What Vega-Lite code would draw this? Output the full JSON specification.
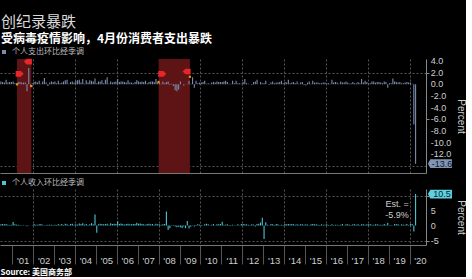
{
"$schema":"https://vega.github.io/schema/vega-lite/v6.json",
"background":"#000000",
"padding":{"left":0,"top":15,"right":0,"bottom":0},
"title":{"text":"创纪录暴跌","subtitle":"受病毒疫情影响，4月份消费者支出暴跌","anchor":"start","font":"Noto Sans CJK SC","fontSize":15,"fontWeight":"normal","color":"#dadada","subtitleFont":"Noto Sans CJK SC","subtitleFontSize":12,"subtitleFontWeight":"bold","subtitleColor":"#ffffff","subtitlePadding":4,"offset":3,"dx":1},
"datasets":{"m":[
{"d":"2000-06","s":0.5,"i":0.4},{"d":"2000-07","s":0.4,"i":0.5},{"d":"2000-08","s":0.3,"i":0.4},{"d":"2000-09","s":0.8,"i":0.5},{"d":"2000-10","s":0.3,"i":0.3},{"d":"2000-11","s":0.4,"i":0.2},{"d":"2000-12","s":0.4,"i":0.3},
{"d":"2001-01","s":0.5,"i":1.2},{"d":"2001-02","s":0.2,"i":0.4},{"d":"2001-03","s":0.1,"i":0.3},{"d":"2001-04","s":0.4,"i":0.3},{"d":"2001-05","s":0.4,"i":0.2},{"d":"2001-06","s":0.3,"i":0.1},{"d":"2001-07","s":0.3,"i":0.1},{"d":"2001-08","s":0.3,"i":0.1},{"d":"2001-09","s":-1.2,"i":-0.2},{"d":"2001-10","s":2.8,"i":0.1},{"d":"2001-11","s":-0.4,"i":0.0},{"d":"2001-12","s":0.2,"i":0.1},
{"d":"2002-01","s":0.4,"i":0.5},{"d":"2002-02","s":0.5,"i":0.3},{"d":"2002-03","s":0.3,"i":0.3},{"d":"2002-04","s":0.6,"i":0.4},{"d":"2002-05","s":0.1,"i":0.5},{"d":"2002-06","s":0.5,"i":0.3},{"d":"2002-07","s":1.1,"i":0.1},{"d":"2002-08","s":0.3,"i":0.2},{"d":"2002-09","s":-0.3,"i":0.3},{"d":"2002-10","s":0.3,"i":0.3},{"d":"2002-11","s":0.5,"i":0.3},{"d":"2002-12","s":0.4,"i":0.2},
{"d":"2003-01","s":0.5,"i":0.3},{"d":"2003-02","s":0.2,"i":0.2},{"d":"2003-03","s":0.6,"i":0.4},{"d":"2003-04","s":0.2,"i":0.3},{"d":"2003-05","s":0.3,"i":0.5},{"d":"2003-06","s":0.5,"i":0.2},{"d":"2003-07","s":0.7,"i":0.6},{"d":"2003-08","s":0.8,"i":0.4},{"d":"2003-09","s":0.1,"i":0.2},{"d":"2003-10","s":0.4,"i":0.5},{"d":"2003-11","s":0.5,"i":0.6},{"d":"2003-12","s":0.3,"i":0.3},
{"d":"2004-01","s":0.6,"i":0.4},{"d":"2004-02","s":0.7,"i":0.3},{"d":"2004-03","s":0.8,"i":0.7},{"d":"2004-04","s":0.3,"i":0.5},{"d":"2004-05","s":0.9,"i":0.8},{"d":"2004-06","s":0.1,"i":0.3},{"d":"2004-07","s":0.7,"i":0.5},{"d":"2004-08","s":0.3,"i":0.2},{"d":"2004-09","s":0.7,"i":0.4},{"d":"2004-10","s":0.6,"i":0.8},{"d":"2004-11","s":0.5,"i":0.4},{"d":"2004-12","s":1.0,"i":3.7},
{"d":"2005-01","s":0.2,"i":-2.4},{"d":"2005-02","s":0.5,"i":0.4},{"d":"2005-03","s":0.5,"i":0.6},{"d":"2005-04","s":0.7,"i":0.5},{"d":"2005-05","s":0.2,"i":0.4},{"d":"2005-06","s":0.8,"i":0.5},{"d":"2005-07","s":1.2,"i":0.6},{"d":"2005-08","s":0.1,"i":0.3},{"d":"2005-09","s":0.5,"i":0.8},{"d":"2005-10","s":0.3,"i":0.5},{"d":"2005-11","s":0.4,"i":0.6},{"d":"2005-12","s":0.5,"i":0.5},
{"d":"2006-01","s":0.9,"i":1.4},{"d":"2006-02","s":0.4,"i":0.5},{"d":"2006-03","s":0.5,"i":0.7},{"d":"2006-04","s":0.5,"i":0.5},{"d":"2006-05","s":0.4,"i":0.3},{"d":"2006-06","s":0.3,"i":0.5},{"d":"2006-07","s":0.7,"i":0.6},{"d":"2006-08","s":0.3,"i":0.4},{"d":"2006-09","s":0.3,"i":0.4},{"d":"2006-10","s":0.2,"i":0.5},{"d":"2006-11","s":0.4,"i":0.5},{"d":"2006-12","s":0.7,"i":0.9},
{"d":"2007-01","s":0.5,"i":0.6},{"d":"2007-02","s":0.4,"i":0.7},{"d":"2007-03","s":0.5,"i":0.5},{"d":"2007-04","s":0.4,"i":0.4},{"d":"2007-05","s":0.6,"i":0.3},{"d":"2007-06","s":0.2,"i":0.5},{"d":"2007-07","s":0.4,"i":0.6},{"d":"2007-08","s":0.5,"i":0.4},{"d":"2007-09","s":0.5,"i":0.5},{"d":"2007-10","s":0.4,"i":0.3},{"d":"2007-11","s":0.9,"i":0.6},{"d":"2007-12","s":0.3,"i":0.4},
{"d":"2008-01","s":0.2,"i":0.4},{"d":"2008-02","s":0.1,"i":0.3},{"d":"2008-03","s":0.5,"i":0.4},{"d":"2008-04","s":0.2,"i":0.5},{"d":"2008-05","s":0.4,"i":4.7},{"d":"2008-06","s":0.5,"i":-1.5},{"d":"2008-07","s":-0.1,"i":-0.9},{"d":"2008-08","s":0.1,"i":0.1},{"d":"2008-09","s":-0.3,"i":0.2},{"d":"2008-10","s":-1.0,"i":-0.3},{"d":"2008-11","s":-1.2,"i":-0.6},{"d":"2008-12","s":-0.9,"i":-0.4},
{"d":"2009-01","s":0.5,"i":-0.6},{"d":"2009-02","s":0.0,"i":-0.8},{"d":"2009-03","s":-0.2,"i":-0.3},{"d":"2009-04","s":0.0,"i":-0.9},{"d":"2009-05","s":0.1,"i":1.5},{"d":"2009-06","s":0.6,"i":-1.0},{"d":"2009-07","s":0.1,"i":-0.4},{"d":"2009-08","s":1.2,"i":0.1},{"d":"2009-09","s":-0.6,"i":-0.3},{"d":"2009-10","s":0.6,"i":0.2},{"d":"2009-11","s":0.2,"i":0.4},{"d":"2009-12","s":0.3,"i":0.3},
{"d":"2010-01","s":0.3,"i":0.2},{"d":"2010-02","s":0.4,"i":0.1},{"d":"2010-03","s":0.6,"i":0.4},{"d":"2010-04","s":0.1,"i":0.6},{"d":"2010-05","s":0.2,"i":0.4},{"d":"2010-06","s":0.1,"i":0.1},{"d":"2010-07","s":0.3,"i":0.3},{"d":"2010-08","s":0.4,"i":0.5},{"d":"2010-09","s":0.3,"i":0.1},{"d":"2010-10","s":0.5,"i":0.4},{"d":"2010-11","s":0.4,"i":0.4},{"d":"2010-12","s":0.4,"i":0.5},
{"d":"2011-01","s":0.4,"i":1.3},{"d":"2011-02","s":0.5,"i":0.3},{"d":"2011-03","s":0.6,"i":0.3},{"d":"2011-04","s":0.4,"i":0.4},{"d":"2011-05","s":0.1,"i":0.2},{"d":"2011-06","s":0.1,"i":0.2},{"d":"2011-07","s":0.6,"i":0.3},{"d":"2011-08","s":0.2,"i":-0.1},{"d":"2011-09","s":0.6,"i":0.1},{"d":"2011-10","s":0.2,"i":0.4},{"d":"2011-11","s":0.2,"i":0.1},{"d":"2011-12","s":0.1,"i":0.5},
{"d":"2012-01","s":0.4,"i":0.5},{"d":"2012-02","s":0.9,"i":0.4},{"d":"2012-03","s":0.2,"i":0.4},{"d":"2012-04","s":0.1,"i":0.3},{"d":"2012-05","s":0.0,"i":0.2},{"d":"2012-06","s":-0.1,"i":0.4},{"d":"2012-07","s":0.4,"i":0.3},{"d":"2012-08","s":0.5,"i":-0.3},{"d":"2012-09","s":0.8,"i":0.5},{"d":"2012-10","s":0.0,"i":0.6},{"d":"2012-11","s":0.4,"i":1.0},{"d":"2012-12","s":0.2,"i":2.6},
{"d":"2013-01","s":0.2,"i":-4.5},{"d":"2013-02","s":0.6,"i":1.1},{"d":"2013-03","s":0.0,"i":0.3},{"d":"2013-04","s":-0.1,"i":0.1},{"d":"2013-05","s":0.3,"i":0.5},{"d":"2013-06","s":0.5,"i":0.4},{"d":"2013-07","s":0.2,"i":0.2},{"d":"2013-08","s":0.3,"i":0.5},{"d":"2013-09","s":0.3,"i":0.4},{"d":"2013-10","s":0.4,"i":-0.1},{"d":"2013-11","s":0.6,"i":0.3},{"d":"2013-12","s":0.2,"i":0.2},
{"d":"2014-01","s":0.4,"i":0.5},{"d":"2014-02","s":0.3,"i":0.4},{"d":"2014-03","s":0.8,"i":0.5},{"d":"2014-04","s":0.2,"i":0.4},{"d":"2014-05","s":0.3,"i":0.5},{"d":"2014-06","s":0.4,"i":0.4},{"d":"2014-07","s":0.2,"i":0.3},{"d":"2014-08","s":0.5,"i":0.4},{"d":"2014-09","s":0.1,"i":0.3},{"d":"2014-10","s":0.3,"i":0.4},{"d":"2014-11","s":0.4,"i":0.4},{"d":"2014-12","s":-0.1,"i":0.3},
{"d":"2015-01","s":-0.2,"i":0.4},{"d":"2015-02","s":0.3,"i":0.3},{"d":"2015-03","s":0.5,"i":0.1},{"d":"2015-04","s":0.1,"i":0.4},{"d":"2015-05","s":0.6,"i":0.5},{"d":"2015-06","s":0.3,"i":0.4},{"d":"2015-07","s":0.3,"i":0.4},{"d":"2015-08","s":0.3,"i":0.3},{"d":"2015-09","s":0.2,"i":0.2},{"d":"2015-10","s":0.2,"i":0.4},{"d":"2015-11","s":0.3,"i":0.3},{"d":"2015-12","s":0.3,"i":0.3},
{"d":"2016-01","s":0.2,"i":0.4},{"d":"2016-02","s":0.2,"i":0.2},{"d":"2016-03","s":0.1,"i":0.2},{"d":"2016-04","s":0.8,"i":0.4},{"d":"2016-05","s":0.3,"i":0.2},{"d":"2016-06","s":0.4,"i":0.3},{"d":"2016-07","s":0.3,"i":0.3},{"d":"2016-08","s":0.1,"i":0.2},{"d":"2016-09","s":0.5,"i":0.3},{"d":"2016-10","s":0.3,"i":0.5},{"d":"2016-11","s":0.3,"i":0.1},{"d":"2016-12","s":0.5,"i":0.4},
{"d":"2017-01","s":0.3,"i":0.4},{"d":"2017-02","s":0.1,"i":0.3},{"d":"2017-03","s":0.2,"i":0.2},{"d":"2017-04","s":0.4,"i":0.4},{"d":"2017-05","s":0.2,"i":0.4},{"d":"2017-06","s":0.2,"i":0.3},{"d":"2017-07","s":0.4,"i":0.4},{"d":"2017-08","s":0.2,"i":0.2},{"d":"2017-09","s":0.9,"i":0.4},{"d":"2017-10","s":0.3,"i":0.4},{"d":"2017-11","s":0.6,"i":0.3},{"d":"2017-12","s":0.4,"i":0.4},
{"d":"2018-01","s":0.2,"i":0.4},{"d":"2018-02","s":0.2,"i":0.4},{"d":"2018-03","s":0.5,"i":0.3},{"d":"2018-04","s":0.5,"i":0.3},{"d":"2018-05","s":0.3,"i":0.4},{"d":"2018-06","s":0.4,"i":0.4},{"d":"2018-07","s":0.4,"i":0.3},{"d":"2018-08","s":0.3,"i":0.3},{"d":"2018-09","s":0.2,"i":0.2},{"d":"2018-10","s":0.5,"i":0.5},{"d":"2018-11","s":0.4,"i":0.3},{"d":"2018-12","s":-0.6,"i":0.9},
{"d":"2019-01","s":0.2,"i":-0.1},{"d":"2019-02","s":0.2,"i":0.2},{"d":"2019-03","s":1.0,"i":0.1},{"d":"2019-04","s":0.5,"i":0.5},{"d":"2019-05","s":0.4,"i":0.4},{"d":"2019-06","s":0.3,"i":0.4},{"d":"2019-07","s":0.4,"i":0.1},{"d":"2019-08","s":0.2,"i":0.4},{"d":"2019-09","s":0.2,"i":0.3},{"d":"2019-10","s":0.3,"i":0.3},{"d":"2019-11","s":0.4,"i":0.5},{"d":"2019-12","s":0.3,"i":0.2},
{"d":"2020-01","s":0.3,"i":0.6},{"d":"2020-02","s":0.1,"i":0.5},{"d":"2020-03","s":-6.9,"i":-2.0},{"d":"2020-04","s":-13.6,"i":10.5}
]},
"spacing":6,
"resolve":{"scale":{"color":"independent"},"legend":{"color":"independent"}},
"vconcat":[
{"width":426,"height":114,
"layer":[
{"data":{"values":[{"a":"2001-03-25","b":"2001-12-01"},{"a":"2008-01-01","b":"2009-07-01"}]},
"mark":{"type":"rect","color":"#5e1414"},
"encoding":{"x":{"field":"a","type":"temporal","scale":{"domain":[{"year":2000,"month":6,"date":1},{"year":2020,"month":10,"date":15}]},
"axis":{"values":[{"year":2002},{"year":2004},{"year":2006},{"year":2008},{"year":2010},{"year":2012},{"year":2014},{"year":2016},{"year":2018},{"year":2020}],"labels":false,"ticks":false,"title":null,"domainColor":"#777777","grid":true,"gridDash":[2,2],"gridColor":"#555555"}},
"x2":{"field":"b"}}},
{"data":{"name":"m"},
"mark":{"type":"bar","width":1.1},
"encoding":{"x":{"field":"d","timeUnit":"yearmonth","type":"temporal","bandPosition":0.5,"scale":{"domain":[{"year":2000,"month":6,"date":1},{"year":2020,"month":10,"date":15}]}},
"y":{"field":"s","type":"quantitative","scale":{"domain":[-15.2,4.35],"nice":false,"zero":false},
"axis":{"orient":"right","values":[4,2,0,-2,-4,-6,-8,-10,-12,-14],"labels":false,"tickSize":3,"tickColor":"#888888","domainColor":"#888888","grid":true,"gridDash":[2,2],"gridColor":"#555555","gridOpacity":{"condition":{"test":"indexof([2,-10,-12,-14], datum.value) >= 0","value":1},"value":0},"tickOpacity":{"condition":{"test":"datum.value < -13","value":0},"value":1},"title":"Percent","titleColor":"#cfcfcf","titleFontSize":10,"titleFontWeight":"normal","titlePadding":26}},
"color":{"datum":"个人支出环比经季调","type":"nominal","scale":{"range":["#7a8cae"]},"legend":{"orient":"top","title":null,"symbolType":"square","symbolSize":16,"symbolStrokeWidth":0,"labelFontSize":8,"labelColor":"#bdbdbd","labelFont":"Noto Sans CJK SC","padding":0,"offset":3}}}},
{"data":{"values":[{"a":"2001-05-10","v":1.8},{"a":"2008-03-05","v":1.8}]},
"mark":{"type":"point","shape":"M-1,-0.7L0.3,-0.7L1,0L0.3,0.7L-1,0.7Z","size":64,"filled":true,"color":"#e8262a","opacity":1},
"encoding":{"x":{"field":"a","type":"temporal"},"y":{"field":"v","type":"quantitative"}}},
{"data":{"values":[{"a":"2001-10-01","v":3.9},{"a":"2009-05-05","v":2.2}]},
"mark":{"type":"point","shape":"M1,-0.7L-0.3,-0.7L-1,0L-0.3,0.7L1,0.7Z","size":64,"filled":true,"color":"#e8262a","opacity":1},
"encoding":{"x":{"field":"a","type":"temporal"},"y":{"field":"v","type":"quantitative"}}},
{"data":{"values":[{"a":"2001-03-25","v":0},{"a":"2001-12-01","v":-0.3},{"a":"2008-01-01","v":0.4},{"a":"2009-07-01","v":1.3}]},
"mark":{"type":"point","shape":"square","size":5,"filled":true,"color":"#f0901a","opacity":1},
"encoding":{"x":{"field":"a","type":"temporal"},"y":{"field":"v","type":"quantitative"}}},
{"data":{"values":[{"v":4,"t":"4.0"},{"v":2,"t":"2.0"},{"v":0,"t":"0.0"},{"v":-2,"t":"-2.0"},{"v":-4,"t":"-4.0"},{"v":-6,"t":"-6.0"},{"v":-8,"t":"-8.0"},{"v":-10,"t":"-10.0"},{"v":-12,"t":"-12.0"}]},
"mark":{"type":"text","align":"left","baseline":"middle","font":"Liberation Sans","fontSize":9,"color":"#cfcfcf"},
"encoding":{"x":{"datum":{"year":2021,"month":1,"date":4},"type":"temporal"},"y":{"field":"v","type":"quantitative"},"text":{"field":"t"}}},
{"data":{"values":[{}]},
"mark":{"type":"point","shape":"M-1,0L-0.8,-0.36L1,-0.36L1,0.36L-0.8,0.36Z","size":576,"filled":true,"color":"#8094b6","opacity":1},
"encoding":{"x":{"datum":{"year":2021,"month":6,"date":15},"type":"temporal"},"y":{"datum":-13.6,"type":"quantitative"}}},
{"data":{"values":[{}]},
"mark":{"type":"text","text":"-13.6","font":"Liberation Sans","fontSize":9,"color":"#0f1724","dx":2},
"encoding":{"x":{"datum":{"year":2021,"month":6,"date":15},"type":"temporal"},"y":{"datum":-13.6,"type":"quantitative"}}}
]},
{"width":426,"height":56,
"layer":[
{"data":{"name":"m"},
"mark":{"type":"bar","width":1.1},
"encoding":{"x":{"field":"d","timeUnit":"yearmonth","type":"temporal","bandPosition":0.5,"scale":{"domain":[{"year":2000,"month":6,"date":1},{"year":2020,"month":10,"date":15}]},
"axis":{"tickCount":{"interval":"year","step":1},"format":"'%y","labelOffset":10.45,"labelAlign":"center","labelColor":"#cfcfcf","labelFontSize":9.5,"labelPadding":-9,"labelOverlap":false,"labelFlush":false,"tickSize":19,"tickColor":"#555555","domainColor":"#777777","grid":true,"gridDash":[2,2],"gridColor":"#555555","gridOpacity":{"condition":{"test":"year(datum.value) % 2 == 0","value":1},"value":0},"title":"Source: 美国商务部","titleAnchor":"start","titleAlign":"left","titleFontSize":8,"titleFontWeight":"bold","titleColor":"#ffffff","titlePadding":4,"titleFont":"Noto Sans CJK SC"}},
"y":{"field":"i","type":"quantitative","scale":{"domain":[-6.5,12.2],"nice":false,"zero":false},
"axis":{"orient":"right","values":[-5,0,5,10],"labels":false,"tickSize":3,"tickColor":"#888888","domainColor":"#888888","grid":true,"gridDash":[2,2],"gridColor":"#555555","gridOpacity":{"condition":{"test":"datum.value != 0","value":1},"value":0},"title":"Percent","titleColor":"#cfcfcf","titleFontSize":10,"titleFontWeight":"normal","titlePadding":26}},
"color":{"datum":"个人收入环比经季调","type":"nominal","scale":{"range":["#4cc3d3"]},"legend":{"orient":"top","title":null,"symbolType":"square","symbolSize":16,"symbolStrokeWidth":0,"labelFontSize":8,"labelColor":"#bdbdbd","labelFont":"Noto Sans CJK SC","padding":0,"offset":2}}}},
{"data":{"values":[{"v":5,"t":"5"},{"v":0,"t":"0"},{"v":-5,"t":"-5"}]},
"mark":{"type":"text","align":"left","baseline":"middle","font":"Liberation Sans","fontSize":9,"color":"#cfcfcf"},
"encoding":{"x":{"datum":{"year":2021,"month":1,"date":4},"type":"temporal"},"y":{"field":"v","type":"quantitative"},"text":{"field":"t"}}},
{"data":{"values":[{}]},
"mark":{"type":"text","text":["Est. =","-5.9%"],"font":"Liberation Sans","fontSize":9,"lineHeight":11,"color":"#cfcfcf","align":"center","baseline":"middle"},
"encoding":{"x":{"datum":{"year":2019,"month":5,"date":28},"type":"temporal"},"y":{"datum":7.2,"type":"quantitative"}}},
{"data":{"values":[{}]},
"mark":{"type":"point","shape":"M-1,0L-0.8,-0.36L1,-0.36L1,0.36L-0.8,0.36Z","size":576,"filled":true,"color":"#5fd0df","opacity":1},
"encoding":{"x":{"datum":{"year":2021,"month":6,"date":15},"type":"temporal"},"y":{"datum":10.5,"type":"quantitative"}}},
{"data":{"values":[{}]},
"mark":{"type":"text","text":"10.5","font":"Liberation Sans","fontSize":9,"color":"#0b2230","dx":2},
"encoding":{"x":{"datum":{"year":2021,"month":6,"date":15},"type":"temporal"},"y":{"datum":10.5,"type":"quantitative"}}}
]}
],
"config":{"view":{"stroke":null},"axis":{"labelFont":"Liberation Sans","titleFont":"Liberation Sans","labelOverlap":false}}
}
